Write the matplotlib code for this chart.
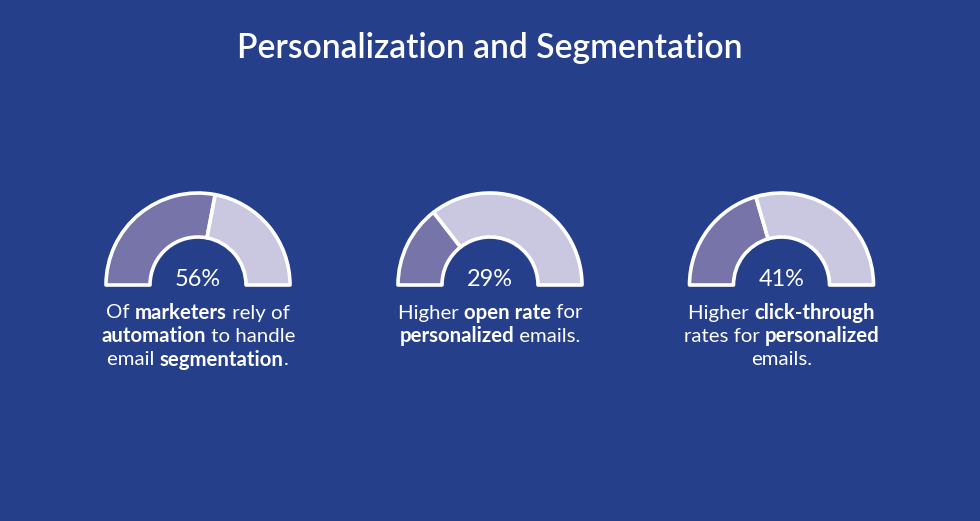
import matplotlib
matplotlib.use('Agg')
import matplotlib.pyplot as plt
from matplotlib.patches import Wedge

W, H = 980, 521
title = "Personalization and Segmentation"
values = [56, 29, 41]
value_labels = ["56%", "29%", "41%"]
captions = [
    [[("Of ", False), ("marketers", True), (" rely of", False)],
     [("automation", True), (" to handle", False)],
     [("email ", False), ("segmentation", True), (".", False)]],
    [[("Higher ", False), ("open rate", True), (" for", False)],
     [("personalized", True), (" emails.", False)]],
    [[("Higher ", False), ("click-through", True)],
     [("rates for ", False), ("personalized", True)],
     [("emails.", False)]],
]

BG = '#263F8A'
DARK = '#7674A9'
LIGHT = '#C9C8E0'
FONT = 'Lato'

centers_x = [198, 490, 781.5]
base_y = 285
R_out, R_in = 92, 48

fig = plt.figure(figsize=(W / 100, H / 100), dpi=100, facecolor=BG)
ax = fig.add_axes([0, 0, 1, 1])
ax.set_xlim(0, W)
ax.set_ylim(0, H)
ax.set_facecolor(BG)
ax.axis('off')
renderer = fig.canvas.get_renderer()


def Y(y):
    return H - y


def text_width(s, size, weight):
    t = ax.text(0, 0, "|" + s + "|", fontsize=size, fontweight=weight, family=FONT)
    w1 = t.get_window_extent(renderer).width
    t.remove()
    t = ax.text(0, 0, "||", fontsize=size, fontweight=weight, family=FONT)
    w2 = t.get_window_extent(renderer).width
    t.remove()
    return w1 - w2


def fit_size(s, target, weight):
    w = text_width(s, 20, weight)
    return 20 * target / w


# title
ts = fit_size(title, 506, 'semibold')
ax.text(490, Y(48), title, fontsize=ts, fontweight='semibold', family=FONT,
        color='white', ha='center', va='center')

# gauges
for cx, v in zip(centers_x, values):
    split = 180 - v * 1.8
    ax.add_patch(Wedge((cx, Y(base_y)), R_out, split, 180, width=R_out - R_in,
                       facecolor=DARK, edgecolor='white', lw=2.6, joinstyle='round'))
    ax.add_patch(Wedge((cx, Y(base_y)), R_out, 0, split, width=R_out - R_in,
                       facecolor=LIGHT, edgecolor='white', lw=2.6, joinstyle='round'))

ps = fit_size("56%", 46, 'normal')
for cx, lab in zip(centers_x, value_labels):
    ax.text(cx, Y(279), lab, fontsize=ps, family=FONT, color='white',
            ha='center', va='center')

# captions
cs = fit_size("Of marketers rely of", 182, 'normal')
line_y = [313, 336.5, 359.5]
for cx, lines in zip(centers_x, captions):
    for li, segs in enumerate(lines):
        widths = [text_width(s, cs, 'bold' if b else 'normal') for s, b in segs]
        x = cx - sum(widths) / 2
        for (s, b), w in zip(segs, widths):
            ax.text(x, Y(line_y[li]), s, fontsize=cs, fontweight='bold' if b else 'normal',
                    family=FONT, color='white', ha='left', va='center')
            x += w

fig.savefig('out.png', dpi=100, facecolor=BG)
